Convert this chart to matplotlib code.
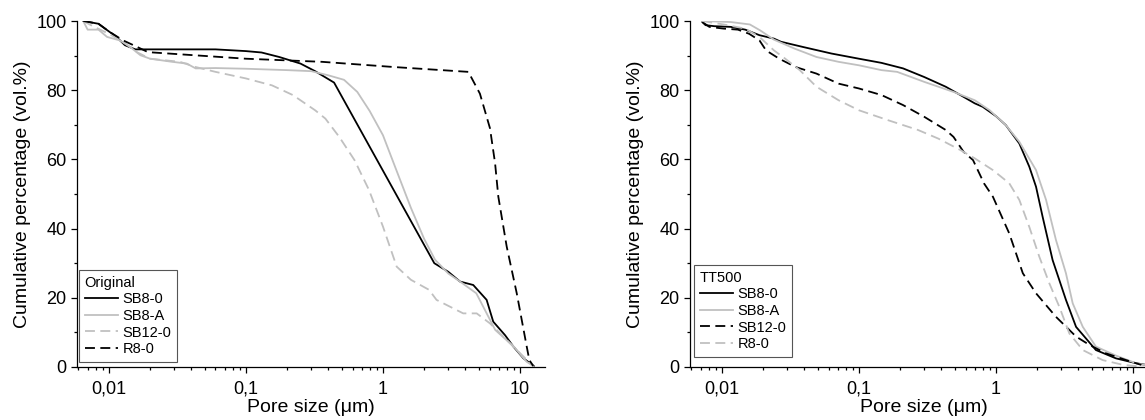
import numpy as np
import matplotlib.pyplot as plt
from matplotlib.ticker import FixedLocator, FuncFormatter, LogLocator, NullFormatter

plt.rcParams['font.family'] = ['Liberation Sans', 'DejaVu Sans']

labels = ['SB8-0', 'SB8-A', 'SB12-0', 'R8-0']

# 左图: Original
orig_sb80_x = [0.0065, 0.0084, 0.01, 0.0113, 0.0131, 0.0156, 0.06, 0.1, 0.13, 0.175, 0.25, 0.32, 0.44,
               2.37, 3.0, 3.65, 4.56, 5.71, 6.38, 7.78, 8.95, 10.6, 12.6]
orig_sb80_y = [100, 99.2, 97, 95.5, 93, 91.8, 91.8, 91.3, 90.9, 89.6, 87.7, 85.5, 82.2,
               30, 27.5, 24.7, 23.7, 19.4, 13.1, 9.2, 5.9, 2.5, 0.3]
orig_sb8a_x = [0.0065, 0.007, 0.0084, 0.0097, 0.012, 0.0143, 0.017, 0.020, 0.029, 0.037, 0.043, 0.06,
               0.1, 0.2, 0.3, 0.4, 0.52, 0.65, 0.8, 1.0, 1.25, 1.6, 2.0, 2.4, 3.0, 3.65, 4.8, 6.6,
               9.0, 11.2, 12.5]
orig_sb8a_y = [100, 97.5, 97.5, 95.4, 94.4, 92.5, 90.1, 89.1, 88.2, 87.7, 86.3, 86.4,
               86.2, 85.8, 85.5, 84.3, 83, 79.5, 74, 67, 57, 46, 37, 31, 27, 24.7, 21.3, 10.7,
               5.9, 1.5, 0.3]
orig_sb120_x = [0.0065, 0.0074, 0.01, 0.0127, 0.016, 0.02, 0.033, 0.043, 0.06, 0.1, 0.155, 0.22, 0.32,
                0.38, 0.48, 0.62, 0.79, 1.0, 1.26, 1.6, 2.17, 2.46, 3.85, 4.83, 6.04, 8.95, 12.3]
orig_sb120_y = [100, 98.8, 96.3, 94, 91, 89.1, 88.2, 86.7, 85.3, 83.4, 81.4, 78.6, 74.2,
                71.8, 66.5, 59.8, 51.2, 40.6, 29, 25.2, 22.3, 19.4, 15.5, 15.5, 12.6, 5.9, 0.5]
orig_r80_x = [0.0065, 0.0084, 0.01, 0.0127, 0.0161, 0.0193, 0.1, 0.36, 1.2, 4.2, 5.1, 6.04, 6.58,
              6.95, 8.0, 9.47, 11.2, 11.7, 12.5]
orig_r80_y = [100, 99.2, 97, 94.4, 92.5, 91, 89.1, 88.2, 86.7, 85.3, 79, 69, 58.9,
              49.2, 34.8, 21.3, 5.9, 2, 0.3]

# 右图: TT500
tt_sb80_x = [0.0072, 0.0076, 0.0088, 0.0116, 0.0148, 0.0188, 0.024, 0.027, 0.039, 0.063, 0.1, 0.146,
             0.21, 0.30, 0.43, 0.55, 0.70, 0.8, 1.0, 1.18, 1.48, 1.75, 1.96, 2.19, 2.59, 2.9, 3.24,
             3.84, 5.36, 7.5, 10.5, 12.5]
tt_sb80_y = [99.7, 98.8, 98.5, 98.3, 97.5, 95.9, 94.9, 94, 92.5, 90.6, 89.1, 87.9,
             86.3, 83.8, 81, 78.6, 76.2, 75.2, 72.5, 69.9, 64.6, 57.9, 52.1, 43.4, 30.9, 25.1, 19.4,
             11.6, 4.9, 2.5, 1.1, 0.6]
tt_sb8a_x = [0.0072, 0.0116, 0.016, 0.019, 0.024, 0.034, 0.049, 0.071, 0.1, 0.146, 0.19, 0.30, 0.49,
             0.70, 0.9, 1.18, 1.48, 1.96, 2.32, 2.74, 3.24, 3.63, 4.3, 5.36, 7.5, 10.5, 12.5]
tt_sb8a_y = [100, 99.7, 99, 97.3, 94.6, 92, 89.6, 88.2, 87.2, 85.8, 85.3, 82.4, 79.5,
             77.1, 74.2, 69.9, 65.1, 56.9, 48.3, 36.7, 27.1, 18.4, 11.6, 5.9, 3.3, 1.1, 0.5]
tt_sb120_x = [0.0072, 0.0081, 0.0103, 0.0131, 0.0158, 0.0188, 0.021, 0.0262, 0.0345, 0.049, 0.071, 0.1,
              0.146, 0.21, 0.30, 0.43, 0.49, 0.58, 0.68, 0.82, 0.95, 1.25, 1.57, 1.96, 2.74, 3.84,
              4.8, 6.3, 8.9, 11.5]
tt_sb120_y = [99.7, 98.3, 97.8, 97.5, 96.3, 94.4, 91.5, 89.1, 86.7, 84.8, 81.9, 80.5,
              78.6, 75.7, 72.3, 68.5, 66.5, 62.2, 59.8, 53, 49.2, 38.6, 27.1, 21.3, 14.5, 8.8,
              6.4, 4, 2, 0.6]
tt_r80_x = [0.0072, 0.0103, 0.0148, 0.0188, 0.024, 0.029, 0.037, 0.049, 0.071, 0.1, 0.164, 0.27, 0.38,
            0.55, 0.70, 0.95, 1.25, 1.48, 1.75, 2.07, 2.45, 2.9, 3.43, 4.3, 6.0, 8.5, 11]
tt_r80_y = [100, 99, 97.8, 95.4, 91.5, 89.1, 85.8, 81, 77.1, 74.2, 71.3, 68.5, 66,
            62.7, 60.3, 56.9, 53.1, 48.3, 40.5, 31.9, 24.2, 17.4, 9.7, 4.9, 2, 0.6, 0.2]

gray = '#c0c0c0'
lw = 1.3
dash = (5.5, 3)


def fmt_comma(v, pos):
    return ('%g' % v).replace('.', ',')


def setup(ax):
    ax.set_xscale('log')
    ax.set_xlim(0.00585, 15.2)
    ax.set_ylim(0, 100)
    for s in ['top', 'right']:
        ax.spines[s].set_visible(False)
    for s in ['left', 'bottom']:
        ax.spines[s].set_linewidth(0.9)
    ax.xaxis.set_major_locator(FixedLocator([0.01, 0.1, 1, 10]))
    ax.xaxis.set_major_formatter(FuncFormatter(fmt_comma))
    ax.xaxis.set_minor_locator(LogLocator(base=10, subs=np.arange(2, 10), numticks=20))
    ax.xaxis.set_minor_formatter(NullFormatter())
    ax.yaxis.set_major_locator(FixedLocator([0, 20, 40, 60, 80, 100]))
    ax.yaxis.set_minor_locator(FixedLocator([10, 30, 50, 70, 90]))
    ax.tick_params(which='major', direction='out', length=4, width=0.9, labelsize=13)
    ax.tick_params(which='minor', direction='out', length=2.5, width=0.9)
    ax.tick_params(axis='x', which='major', pad=6)
    ax.set_xlabel('Pore size (\u03bcm)', fontsize=14, labelpad=1)
    ax.set_ylabel('Cumulative percentage (vol.%)', fontsize=14, labelpad=4)


fig = plt.figure(figsize=(11.45, 4.2), dpi=100)
ax1 = fig.add_axes([0.0672, 0.1262, 0.4087, 0.8238])
ax2 = fig.add_axes([0.6026, 0.1262, 0.4087, 0.8238])

ax1.plot(orig_sb80_x, orig_sb80_y, color='black', lw=lw, label=labels[0])
ax1.plot(orig_sb8a_x, orig_sb8a_y, color=gray, lw=lw, label=labels[1])
ax1.plot(orig_sb120_x, orig_sb120_y, color=gray, lw=lw, dashes=dash, label=labels[2])
ax1.plot(orig_r80_x, orig_r80_y, color='black', lw=lw, dashes=dash, label=labels[3])

ax2.plot(tt_sb80_x, tt_sb80_y, color='black', lw=lw, label=labels[0])
ax2.plot(tt_sb8a_x, tt_sb8a_y, color=gray, lw=lw, label=labels[1])
ax2.plot(tt_sb120_x, tt_sb120_y, color='black', lw=lw, dashes=dash, label=labels[2])
ax2.plot(tt_r80_x, tt_r80_y, color=gray, lw=lw, dashes=dash, label=labels[3])

for ax, title, anchor in [(ax1, 'Original', (0.004, 0.0145)), (ax2, 'TT500', (0.0085, 0.029))]:
    setup(ax)
    leg = ax.legend(title=title, loc='lower left', bbox_to_anchor=anchor, borderaxespad=0,
                    fontsize=10.5, title_fontsize=10.5, alignment='left', fancybox=False,
                    edgecolor='#555555', framealpha=1, handlelength=2.3, handletextpad=0.3,
                    labelspacing=0.18, borderpad=0.4)
    leg.get_frame().set_linewidth(0.8)

fig.savefig('out.png', dpi=100)
